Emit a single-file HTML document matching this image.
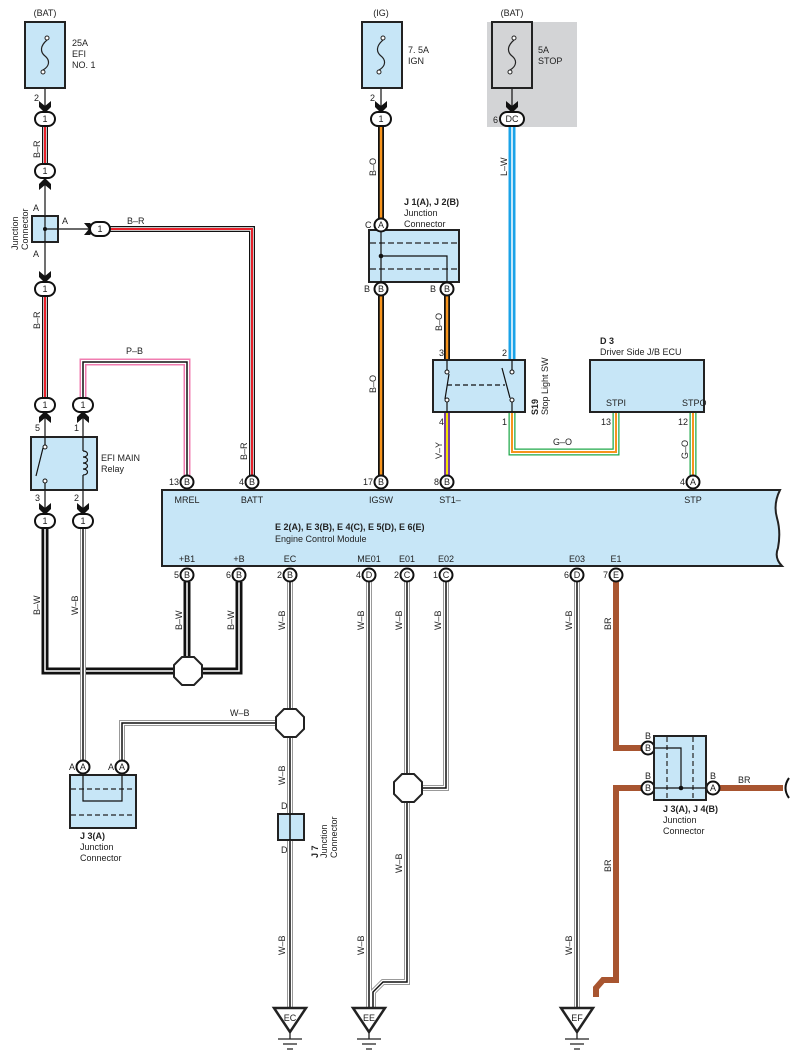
<!DOCTYPE html>
<html><head><meta charset="utf-8"><style>
html,body{margin:0;padding:0;background:#fff}
svg{display:block}
text{font-family:"Liberation Sans",sans-serif;font-size:9px;fill:#222}
.b{font-weight:bold}
</style></head><body>
<svg width="797" height="1062" viewBox="0 0 797 1062" xmlns="http://www.w3.org/2000/svg">
<defs>
<path id="br1" d="M45 126V164"/>
<path id="br2" d="M110 229H252V475"/>
<path id="br3" d="M45 296V398"/>
<path id="pb" d="M83 398V362H187V475"/>
<path id="bw1" d="M45 528V671H239V582"/>
<path id="bw2" d="M187 582V671"/>
<path id="wb1" d="M83 528V760"/>
<path id="wb2" d="M290 582V1008"/>
<path id="wb2b" d="M290 723H122V760"/>
<path id="wb3" d="M369 582V1008"/>
<path id="wb4" d="M407 582V982H383L373 992V1008"/>
<path id="wb5" d="M446 582V788H420"/>
<path id="wb6" d="M577 582V1008"/>
<path id="bo1" d="M381 126V218"/>
<path id="bo2" d="M381 296V475"/>
<path id="bo3" d="M447 296V360"/>
<path id="lw" d="M512 126V360"/>
<path id="vy" d="M447 412V475"/>
<path id="go1" d="M512 412V452H616V412"/>
<path id="go2" d="M693 412V475"/>
</defs>
<!-- grey bg -->
<rect x="487" y="22" width="90" height="105" fill="#d3d4d6"/>
<g fill="none" stroke-linejoin="miter">
<!-- B-R -->
<g stroke="#111" stroke-width="6"><use href="#br1"/><use href="#br2"/><use href="#br3"/></g>
<g stroke="#fff" stroke-width="3.5"><use href="#br1"/><use href="#br2"/><use href="#br3"/></g>
<g stroke="#e8202a" stroke-width="2"><use href="#br1"/><use href="#br2"/><use href="#br3"/></g>
<!-- P-B -->
<use href="#pb" stroke="#f07cb0" stroke-width="7"/>
<use href="#pb" stroke="#fff" stroke-width="4"/>
<use href="#pb" stroke="#111" stroke-width="1.5"/>
<!-- B-W -->
<g stroke="#111" stroke-width="7"><use href="#bw1"/><use href="#bw2"/></g>
<g stroke="#fff" stroke-width="1.5"><use href="#bw1"/><use href="#bw2"/></g>
<!-- W-B -->
<g stroke="#999" stroke-width="6"><use href="#wb1"/><use href="#wb2"/><use href="#wb2b"/><use href="#wb3"/><use href="#wb4"/><use href="#wb5"/><use href="#wb6"/></g>
<g stroke="#fff" stroke-width="4"><use href="#wb1"/><use href="#wb2"/><use href="#wb2b"/><use href="#wb3"/><use href="#wb4"/><use href="#wb5"/><use href="#wb6"/></g>
<g stroke="#111" stroke-width="1.5"><use href="#wb1"/><use href="#wb2"/><use href="#wb2b"/><use href="#wb3"/><use href="#wb4"/><use href="#wb5"/><use href="#wb6"/></g>
<!-- B-O -->
<g stroke="#111" stroke-width="6"><use href="#bo1"/><use href="#bo2"/><use href="#bo3"/></g>
<g stroke="#f7941d" stroke-width="2.5"><use href="#bo1"/><use href="#bo2"/><use href="#bo3"/></g>
<!-- L-W -->
<use href="#lw" stroke="#1aa3e8" stroke-width="7"/>
<use href="#lw" stroke="#fff" stroke-width="1.5"/>
<!-- V-Y -->
<use href="#vy" stroke="#7b3f9e" stroke-width="6"/>
<use href="#vy" stroke="#f5e400" stroke-width="2"/>
<!-- G-O -->
<g stroke="#1fa84a" stroke-width="7"><use href="#go1"/><use href="#go2"/></g>
<g stroke="#fff" stroke-width="4.5"><use href="#go1"/><use href="#go2"/></g>
<g stroke="#f7941d" stroke-width="2"><use href="#go1"/><use href="#go2"/></g>
<!-- BR -->
<g stroke="#a85530" stroke-width="6"><path d="M616 582V748H641"/><path d="M641 788H616V980H603L596 988V997"/><path d="M720 788H783"/></g>
<path d="M789 778Q782 788 789 798" stroke="#111" stroke-width="2"/>
<!-- thin black -->
<g stroke="#111" stroke-width="1.2">
<path d="M45 75V106M381 75V106M512 75V106"/>
<path d="M45 178V216M45 242V280M57 229H90"/>
<path d="M45 417V448M45 478V512M83 417V512"/>
</g>
</g>

<!-- fuses -->
<g stroke="#222" stroke-width="2" fill="#c7e6f7">
<rect x="25" y="22" width="40" height="66"/>
<rect x="362" y="22" width="40" height="66"/>
<rect x="492" y="22" width="40" height="66" fill="#d3d4d6"/>
</g>
<g fill="none" stroke="#222" stroke-width="1.2">
<path d="M47 40C40 46 40 52 45 56S50 66 43 70"/>
<path d="M383 40C376 46 376 52 381 56S386 66 379 70"/>
<path d="M514 40C507 46 507 52 512 56S517 66 510 70"/>
</g>
<g fill="#fff" stroke="#222" stroke-width="1"><circle cx="47" cy="38" r="2"/><circle cx="43" cy="72" r="2"/><circle cx="383" cy="38" r="2"/><circle cx="379" cy="72" r="2"/><circle cx="514" cy="38" r="2"/><circle cx="510" cy="72" r="2"/></g>
<text x="45" y="16" text-anchor="middle">(BAT)</text>
<text x="72" y="46">25A</text><text x="72" y="57">EFI</text><text x="72" y="68">NO. 1</text>
<text x="381" y="16" text-anchor="middle">(IG)</text>
<text x="408" y="53">7. 5A</text><text x="408" y="64">IGN</text>
<text x="512" y="16" text-anchor="middle">(BAT)</text>
<text x="538" y="53">5A</text><text x="538" y="64">STOP</text>

<!-- chevrons -->
<g fill="#111">
<path d="M39 101L45 106L51 101L51 107L45 113L39 107Z"/>
<path d="M375 101L381 106L387 101L387 107L381 113L375 107Z"/>
<path d="M506 101L512 106L518 101L518 107L512 113L506 107Z"/>
<path d="M39 190L45 185L51 190L51 184L45 178L39 184Z"/>
<path d="M84 223L89 229L84 235L90 235L96 229L90 223Z"/>
<path d="M39 271L45 276L51 271L51 277L45 283L39 277Z"/>
<path d="M39 423L45 418L51 423L51 417L45 411L39 417Z"/>
<path d="M77 423L83 418L89 423L89 417L83 411L77 417Z"/>
<path d="M39 503L45 508L51 503L51 509L45 515L39 509Z"/>
<path d="M77 503L83 508L89 503L89 509L83 515L77 509Z"/>
</g>
<!-- ovals -->
<g stroke="#111" stroke-width="2" fill="#fff">
<rect x="35" y="112" width="20" height="14" rx="7"/>
<rect x="35" y="164" width="20" height="14" rx="7"/>
<rect x="90" y="222" width="20" height="14" rx="7"/>
<rect x="35" y="282" width="20" height="14" rx="7"/>
<rect x="35" y="398" width="20" height="14" rx="7"/>
<rect x="73" y="398" width="20" height="14" rx="7"/>
<rect x="35" y="514" width="20" height="14" rx="7"/>
<rect x="73" y="514" width="20" height="14" rx="7"/>
<rect x="371" y="112" width="20" height="14" rx="7"/>
<rect x="500" y="112" width="24" height="14" rx="7"/>
</g>
<g text-anchor="middle">
<text x="45" y="122">1</text><text x="45" y="174">1</text><text x="100" y="232">1</text><text x="45" y="292">1</text>
<text x="45" y="408">1</text><text x="83" y="408">1</text><text x="45" y="524">1</text><text x="83" y="524">1</text>
<text x="381" y="122">1</text><text x="512" y="122">DC</text>
</g>
<text x="34" y="101">2</text><text x="370" y="101">2</text><text x="493" y="123">6</text>

<!-- junction connector left -->
<rect x="32" y="216" width="26" height="26" fill="#c7e6f7" stroke="#222" stroke-width="2"/>
<path d="M45 216V242M45 229H58" stroke="#111" stroke-width="1.2"/>
<circle cx="45" cy="229" r="2" fill="#111"/>
<text x="33" y="211">A</text><text x="62" y="224">A</text><text x="33" y="257">A</text>
<text transform="translate(18,250) rotate(-90)">Junction</text>
<text transform="translate(28,250) rotate(-90)">Connector</text>

<!-- relay -->
<rect x="31" y="437" width="66" height="53" fill="#c7e6f7" stroke="#222" stroke-width="2"/>
<path d="M45 437V446M45 481V490M83 437V451M83 475V490M43 448L36 476" stroke="#111" stroke-width="1.2" fill="none"/>
<path d="M83 451c6 0 6 6 0 6c6 0 6 6 0 6c6 0 6 6 0 6c6 0 6 6 0 6" stroke="#111" stroke-width="1.2" fill="none"/>
<g fill="#fff" stroke="#111"><circle cx="45" cy="447" r="2"/><circle cx="45" cy="481" r="2"/></g>
<text x="101" y="461">EFI MAIN</text><text x="101" y="472">Relay</text>
<text x="35" y="431">5</text><text x="74" y="431">1</text><text x="35" y="501">3</text><text x="74" y="501">2</text>

<!-- wire labels -->
<g>
<text transform="translate(40,158) rotate(-90)">B–R</text>
<text transform="translate(40,329) rotate(-90)">B–R</text>
<text x="127" y="224">B–R</text>
<text transform="translate(247,460) rotate(-90)">B–R</text>
<text x="126" y="354">P–B</text>
<text transform="translate(40,615) rotate(-90)">B–W</text>
<text transform="translate(78,615) rotate(-90)">W–B</text>
<text transform="translate(182,630) rotate(-90)">B–W</text>
<text transform="translate(234,630) rotate(-90)">B–W</text>
<text transform="translate(285,630) rotate(-90)">W–B</text>
<text x="230" y="716">W–B</text>
<text transform="translate(285,785) rotate(-90)">W–B</text>
<text transform="translate(285,955) rotate(-90)">W–B</text>
<text transform="translate(364,630) rotate(-90)">W–B</text>
<text transform="translate(364,955) rotate(-90)">W–B</text>
<text transform="translate(402,630) rotate(-90)">W–B</text>
<text transform="translate(402,873) rotate(-90)">W–B</text>
<text transform="translate(441,630) rotate(-90)">W–B</text>
<text transform="translate(572,630) rotate(-90)">W–B</text>
<text transform="translate(572,955) rotate(-90)">W–B</text>
<text transform="translate(611,630) rotate(-90)">BR</text>
<text transform="translate(611,872) rotate(-90)">BR</text>
<text x="738" y="783">BR</text>
<text transform="translate(376,176) rotate(-90)">B–O</text>
<text transform="translate(376,393) rotate(-90)">B–O</text>
<text transform="translate(442,331) rotate(-90)">B–O</text>
<text transform="translate(507,176) rotate(-90)">L–W</text>
<text transform="translate(442,459) rotate(-90)">V–Y</text>
<text x="553" y="445">G–O</text>
<text transform="translate(688,459) rotate(-90)">G–O</text>
</g>

<!-- J1/J2 -->
<rect x="369" y="230" width="90" height="52" fill="#c7e6f7" stroke="#222" stroke-width="2"/>
<path d="M370 243H458M370 269H458" stroke="#222" stroke-width="1.2" stroke-dasharray="6 3"/>
<path d="M381 230V282M381 256H447V282" stroke="#111" stroke-width="1.2" fill="none"/>
<circle cx="381" cy="256" r="2.3" fill="#111"/>
<text x="404" y="205" class="b">J 1(A), J 2(B)</text>
<text x="404" y="216">Junction</text><text x="404" y="227">Connector</text>
<text x="365" y="228">C</text><text x="364" y="292">B</text><text x="430" y="292">B</text>

<!-- stop light SW -->
<rect x="433" y="360" width="92" height="52" fill="#c7e6f7" stroke="#222" stroke-width="2"/>
<path d="M447 360V372M447 401V412M512 360V372M512 401V412M449 374L445 399M502 368L510 398" stroke="#111" stroke-width="1.2" fill="none"/>
<path d="M447 385H505" stroke="#111" stroke-width="1.2" stroke-dasharray="5 3"/>
<g fill="#fff" stroke="#111"><circle cx="447" cy="372" r="2"/><circle cx="447" cy="400" r="2"/><circle cx="512" cy="372" r="2"/><circle cx="512" cy="400" r="2"/></g>
<text x="439" y="356">3</text><text x="502" y="356">2</text><text x="439" y="425">4</text><text x="502" y="425">1</text>
<text transform="translate(538,415) rotate(-90)" class="b">S19</text>
<text transform="translate(548,415) rotate(-90)">Stop Light SW</text>

<!-- D3 -->
<rect x="590" y="360" width="114" height="52" fill="#c7e6f7" stroke="#222" stroke-width="2"/>
<text x="600" y="344" class="b">D 3</text><text x="600" y="355">Driver Side J/B ECU</text>
<text x="606" y="406">STPI</text><text x="682" y="406">STPO</text>
<text x="601" y="425">13</text><text x="678" y="425">12</text>

<!-- ECM -->
<path d="M162 490H780Q773 504 777 518T778 548Q774 558 782 566H162Z" fill="#c7e6f7" stroke="#222" stroke-width="2"/>
<g text-anchor="middle">
<text x="187" y="503">MREL</text><text x="252" y="503">BATT</text><text x="381" y="503">IGSW</text><text x="450" y="503">ST1–</text><text x="693" y="503">STP</text>
<text x="187" y="562">+B1</text><text x="239" y="562">+B</text><text x="290" y="562">EC</text><text x="369" y="562">ME01</text><text x="407" y="562">E01</text><text x="446" y="562">E02</text><text x="577" y="562">E03</text><text x="616" y="562">E1</text>
</g>
<text x="275" y="530" class="b">E 2(A), E 3(B), E 4(C), E 5(D), E 6(E)</text>
<text x="275" y="542">Engine Control Module</text>

<!-- pins -->
<g stroke="#111" stroke-width="2" fill="#fff">
<circle cx="381" cy="225" r="6.5"/><circle cx="381" cy="289" r="6.5"/><circle cx="447" cy="289" r="6.5"/>
<circle cx="187" cy="482" r="6.5"/><circle cx="252" cy="482" r="6.5"/><circle cx="381" cy="482" r="6.5"/><circle cx="447" cy="482" r="6.5"/><circle cx="693" cy="482" r="6.5"/>
<circle cx="187" cy="575" r="6.5"/><circle cx="239" cy="575" r="6.5"/><circle cx="290" cy="575" r="6.5"/><circle cx="369" cy="575" r="6.5"/><circle cx="407" cy="575" r="6.5"/><circle cx="446" cy="575" r="6.5"/><circle cx="577" cy="575" r="6.5"/><circle cx="616" cy="575" r="6.5"/>
<circle cx="83" cy="767" r="6.5"/><circle cx="122" cy="767" r="6.5"/>
<circle cx="648" cy="748" r="6.5"/><circle cx="648" cy="788" r="6.5"/><circle cx="713" cy="788" r="6.5"/>
</g>
<g text-anchor="middle" font-size="8">
<text x="381" y="228">A</text><text x="381" y="292">B</text><text x="447" y="292">B</text>
<text x="187" y="485">B</text><text x="252" y="485">B</text><text x="381" y="485">B</text><text x="447" y="485">B</text><text x="693" y="485">A</text>
<text x="187" y="578">B</text><text x="239" y="578">B</text><text x="290" y="578">B</text><text x="369" y="578">D</text><text x="407" y="578">C</text><text x="446" y="578">C</text><text x="577" y="578">D</text><text x="616" y="578">E</text>
<text x="83" y="770">A</text><text x="122" y="770">A</text>
<text x="648" y="751">B</text><text x="648" y="791">B</text><text x="713" y="791">A</text>
</g>
<g text-anchor="end">
<text x="179" y="485">13</text><text x="244" y="485">4</text><text x="373" y="485">17</text><text x="439" y="485">8</text><text x="685" y="485">4</text>
<text x="179" y="578">5</text><text x="231" y="578">6</text><text x="282" y="578">2</text><text x="361" y="578">4</text><text x="399" y="578">2</text><text x="438" y="578">1</text><text x="569" y="578">6</text><text x="608" y="578">7</text>
<text x="75" y="770">A</text><text x="114" y="770">A</text>
</g>
<text x="645" y="739">B</text><text x="645" y="779">B</text><text x="710" y="779">B</text>

<!-- octagons -->
<g stroke="#222" stroke-width="2" fill="#fff">
<polygon points="182,657 194,657 202,665 202,677 194,685 182,685 174,677 174,665"/>
<polygon points="284,709 296,709 304,717 304,729 296,737 284,737 276,729 276,717"/>
<polygon points="402,774 414,774 422,782 422,794 414,802 402,802 394,794 394,782"/>
</g>

<!-- J3(A) -->
<rect x="70" y="775" width="66" height="53" fill="#c7e6f7" stroke="#222" stroke-width="2"/>
<path d="M71 789H135M71 815H135" stroke="#222" stroke-width="1.2" stroke-dasharray="5 3"/>
<path d="M83 775V801H122V775" stroke="#111" stroke-width="1.2" fill="none"/>
<text x="80" y="839" class="b">J 3(A)</text><text x="80" y="850">Junction</text><text x="80" y="861">Connector</text>

<!-- J7 -->
<rect x="278" y="814" width="26" height="26" fill="#c7e6f7" stroke="#222" stroke-width="2"/>
<path d="M290 814V840" stroke="#111" stroke-width="1.5"/>
<text x="281" y="809">D</text><text x="281" y="853">D</text>
<text transform="translate(318,858) rotate(-90)" class="b">J 7</text>
<text transform="translate(327,858) rotate(-90)">Junction</text>
<text transform="translate(337,858) rotate(-90)">Connector</text>

<!-- J3/J4 -->
<rect x="654" y="736" width="52" height="64" fill="#c7e6f7" stroke="#222" stroke-width="2"/>
<path d="M667 737V799M693 737V799" stroke="#222" stroke-width="1.2" stroke-dasharray="5 3"/>
<path d="M654 748H681V788M654 788H706" stroke="#111" stroke-width="1.2" fill="none"/>
<circle cx="681" cy="788" r="2.3" fill="#111"/>
<text x="663" y="812" class="b">J 3(A), J 4(B)</text><text x="663" y="823">Junction</text><text x="663" y="834">Connector</text>

<!-- grounds -->
<g stroke="#222" stroke-width="2.5" fill="#fff">
<polygon points="274,1008 306,1008 290,1032"/>
<polygon points="353,1008 385,1008 369,1032"/>
<polygon points="561,1008 593,1008 577,1032"/>
</g>
<g stroke="#222" stroke-width="1.3">
<path d="M290 1032V1039M278 1039H302M283 1044H297M287 1049H293"/>
<path d="M369 1032V1039M357 1039H381M362 1044H376M366 1049H372"/>
<path d="M577 1032V1039M565 1039H589M570 1044H584M574 1049H580"/>
</g>
<g text-anchor="middle"><text x="290" y="1021">EC</text><text x="369" y="1021">EE</text><text x="577" y="1021">EF</text></g>
</svg>
</body></html>
